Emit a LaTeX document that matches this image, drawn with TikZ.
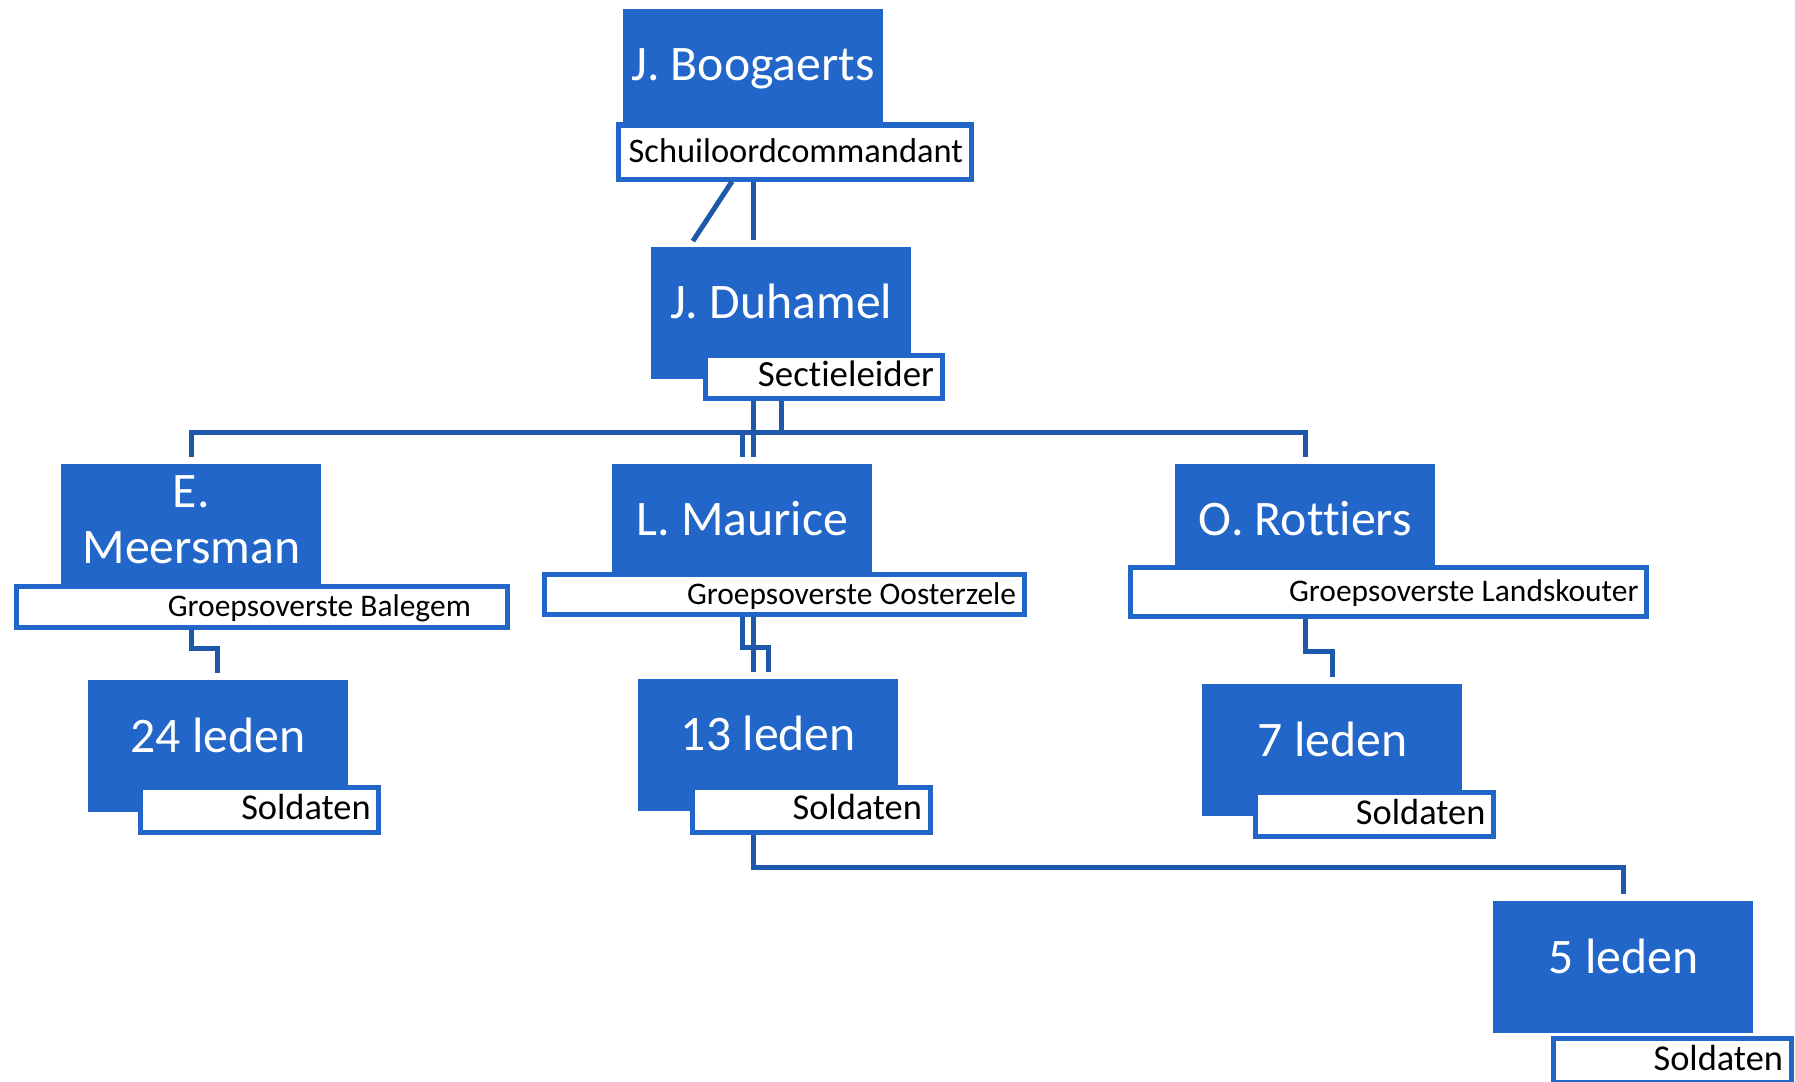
\documentclass[tikz,border=0pt]{standalone}
\usepackage{fontspec}
\setmainfont{Carlito}[Ligatures=NoCommon]
\usetikzlibrary{calc}

\definecolor{boxblue}{RGB}{33,102,200}
\definecolor{lineblue}{RGB}{30,88,170}
\newcommand\fsz[1]{\fontsize{#1}{#1}\selectfont}

\tikzset{
	namebox/.style={fill=boxblue, minimum width=52mm, minimum height=26.4mm, inner sep=0pt, anchor=north west},
	nametext/.style={text=white, anchor=base, inner sep=0pt, font=\fsz{28.3}},
	rolebox/.style={draw=boxblue, line width=1mm, fill=white, align=flush right, anchor=north west,
		inner xsep=1.6mm, inner ysep=0pt, text height=4mm, text depth=0pt},
	link/.style={draw=lineblue, line width=1mm},
	drop/.style={link, shorten >=1.4mm},
}

\begin{document}
\begin{tikzpicture}[x=0.2mm, y=-0.2mm]
			
			\useasboundingbox (0,0) rectangle (1795,1081);
			
			% === Name boxes ===
			\node[namebox] (boog) at (623,9) {};
			\node[namebox] (duha) at (651,247) {};
			\node[namebox] (meer) at (61,464) {};
			\node[namebox] (maur) at (612,464) {};
			\node[namebox] (rott) at (1175,464) {};
			\node[namebox] (l24) at (87.5,680) {};
			\node[namebox] (l13) at (638,679) {};
			\node[namebox] (l7) at (1202,684) {};
			\node[namebox] (l5) at (1493,901) {};
			
			% === Names ===
			\node[nametext] (boogT) at ([yshift=-14.3mm]boog.north) {J. Boogaerts};
			\node[nametext] (duhaT) at ([yshift=-14.3mm]duha.north) {J. Duhamel};
			\node[nametext, anchor=center, align=center, font=\fontsize{28.3}{31.9}\selectfont] (meerT) at ([yshift=-11.2mm]meer.north) {E.\\Meersman};
			\node[nametext] (maurT) at ([yshift=-14.3mm]maur.north) {L. Maurice};
			\node[nametext] (rottT) at ([yshift=-14.3mm]rott.north) {O. Rottiers};
			\node[nametext] (l24T) at ([yshift=-14.4mm]l24.north) {24 leden};
			\node[nametext] (l13T) at ([yshift=-14.2mm]l13.north) {13 leden};
			\node[nametext] (l7T) at ([yshift=-14.4mm]l7.north) {7 leden};
			\node[nametext] (l5T) at ([yshift=-14.4mm]l5.north) {5 leden};
			
			% === Role boxes ===
			\node[rolebox, text width=67.4mm, minimum height=10.8mm, font=\fsz{19.6}] (schuil) at (615.5,122.5) {Schuiloordcommandant};
			\node[rolebox, text width=44.2mm, minimum height=8.6mm, font=\fsz{21}] (secti) at (702.5,352.5) {Sectieleider};
			\node[rolebox, text width=83.4mm, inner xsep=7.4mm, minimum height=8.2mm, font=\fsz{17.9}] (bale) at (14.3,583.5) {Groepsoverste Balegem};
			\node[rolebox, text width=92.8mm, minimum height=8mm, font=\fsz{17.9}] (oost) at (541.5,571.5) {Groepsoverste Oosterzele};
			\node[rolebox, text width=100.1mm, minimum height=9.8mm, font=\fsz{17.9}] (land) at (1127.5,564.5) {Groepsoverste Landskouter};
			\node[rolebox, text width=44.4mm, minimum height=9mm, font=\fsz{20.7}] (s24) at (138.2,784.5) {Soldaten};
			\node[rolebox, text width=44.4mm, minimum height=9mm, font=\fsz{20.7}] (s13) at (689.5,784.5) {Soldaten};
			\node[rolebox, text width=44.4mm, minimum height=8.8mm, font=\fsz{20.7}] (s7) at (1252.9,789.5) {Soldaten};
			\node[rolebox, text width=44.4mm, minimum height=8.8mm, font=\fsz{20.7}] (s5) at (1550.5,1035.5) {Soldaten};
			
			% === Schuiloordcommandant to Sectieleider ===
			\draw[drop] (boog.center |- schuil.south) -- (boog.center |- duha.north);
			\draw[drop] ([xshift=23.3mm]schuil.south west) -- ([xshift=7.6mm]duha.north west);
			
			% === Sectieleider to the three groups ===
			\coordinate (split) at ($(secti.south)!0.5!(maur.north)$);
			\draw[link] (duha.center |- secti.south) -- (duha.center |- split);
			\draw[drop] (boog.center |- secti.south) -- (boog.center |- maur.north);
			\draw[drop, shorten <=1.4mm] (meer.north) -- (meer.north |- split) -- (rott.north |- split) -- (rott.north);
			\draw[drop] (maur.north |- split) -- (maur.north);
			
			% === Groups to soldiers ===
			\coordinate (jogA) at ($(bale.south)!0.37!(l24.north)$);
			\draw[drop] (meer.center |- bale.south) |- (jogA -| l24.north) -- (l24.north);
			
			\coordinate (jogB) at ($(oost.south)!0.5!(l13.north)$);
			\draw[drop] (maur.center |- oost.south) |- (jogB -| l13.north) -- (l13.north);
			\draw[drop] (boog.center |- oost.south) -- (boog.center |- l13.north);
			
			\coordinate (jogC) at ($(land.south)!0.5!(l7.north)$);
			\draw[drop] (rott.center |- land.south) |- (jogC -| l7.north) -- (l7.north);
			
			% === Extra soldiers under Oosterzele ===
			\coordinate (jogD) at ($(s13.south)!0.5!(l5.north)$);
			\draw[drop] (boog.center |- s13.south) |- (jogD -| l5.north) -- (l5.north);
			
\end{tikzpicture}
\end{document}
